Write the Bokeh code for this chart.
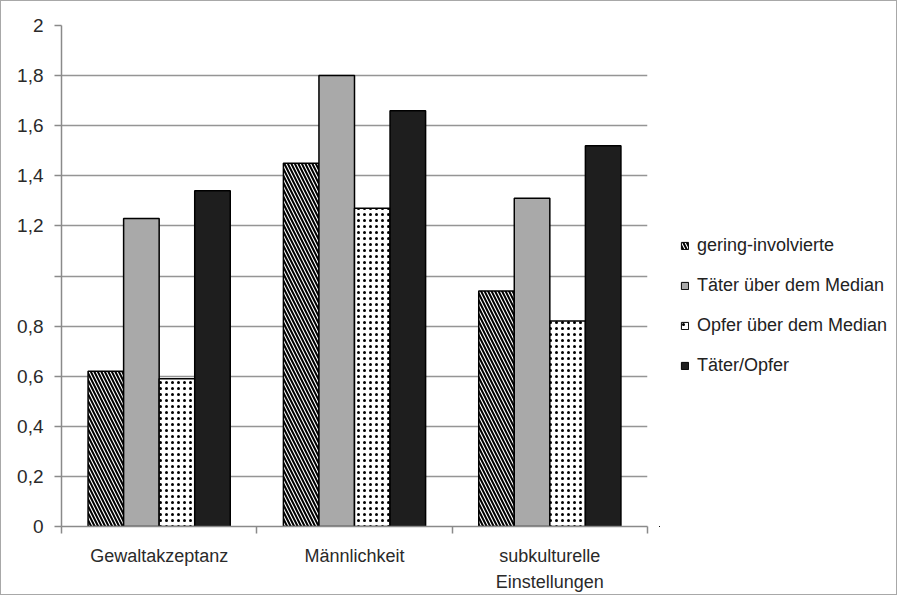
from bokeh.plotting import figure
from bokeh.layouts import row
from bokeh.models import (ColumnDataSource, Range1d, FixedTicker, Legend, LegendItem)
from bokeh.transform import dodge
from bokeh.embed import file_html
from bokeh.resources import INLINE

# ---- data ----
categories = ["Gewaltakzeptanz", "Männlichkeit", "subkulturelle\nEinstellungen"]
series_names = ["gering-involvierte", "Täter über dem Median", "Opfer über dem Median", "Täter/Opfer"]
gering = [0.62, 1.45, 0.94]
taeter = [1.23, 1.80, 1.31]
opfer = [0.59, 1.27, 0.82]
taeter_opfer = [1.34, 1.66, 1.52]
y_ticks = [0, 0.2, 0.4, 0.6, 0.8, 1, 1.2, 1.4, 1.6, 1.8, 2]
y_tick_labels = ["0", "0,2", "0,4", "0,6", "0,8", "", "1,2", "1,4", "1,6", "1,8", "2"]

x_pos = [i + 0.5 for i in range(len(categories))]
src = ColumnDataSource(dict(x=x_pos, g=gering, t=taeter, o=opfer, to=taeter_opfer))

FONT = "Liberation Sans"

styles = [
    dict(fill_color="white", hatch_pattern="\\", hatch_color="black", hatch_scale=7, hatch_weight=2),
    dict(fill_color="#a9a9a9"),
    dict(fill_color="white", hatch_pattern="dot", hatch_color="black", hatch_scale=6, hatch_weight=1),
    dict(fill_color="#1e1e1e"),
]
cols = ["g", "t", "o", "to"]
offsets = [-0.273, -0.091, 0.091, 0.273]

p = figure(width=658, height=593, output_backend="svg", toolbar_location=None,
           x_range=Range1d(0, 3), y_range=Range1d(0, 2),
           min_border_left=60, min_border_top=24, min_border_right=12, min_border_bottom=66)
p.outline_line_color = None
p.background_fill_color = "white"
p.border_fill_color = "white"

bw = 0.182
for col, off, st in zip(cols, offsets, styles):
    p.vbar(x=dodge("x", off, range=p.x_range), top=col, source=src, width=bw, bottom=0,
           line_color="black", line_width=1.5, **st)

# grid
p.xgrid.visible = False
p.ygrid.ticker = FixedTicker(ticks=y_ticks)
p.ygrid.grid_line_color = "#959595"
p.ygrid.grid_line_width = 1.5

# y axis
ya = p.yaxis[0]
ya.ticker = FixedTicker(ticks=y_ticks)
ya.major_label_overrides = {t: l for t, l in zip(y_ticks, y_tick_labels)}
ya.axis_line_color = "#8a8a8a"
ya.axis_line_width = 1.5
ya.major_tick_line_color = "#8a8a8a"
ya.major_tick_line_width = 1.5
ya.major_tick_out = 7
ya.major_tick_in = 0
ya.minor_tick_line_color = None
ya.major_label_standoff = 11
ya.major_label_text_font = FONT
ya.major_label_text_font_size = "19px"
ya.major_label_text_color = "#2a2a2a"

# x axis
xa = p.xaxis[0]
xa.ticker = FixedTicker(ticks=x_pos, minor_ticks=[0, 1, 2, 3])
xa.major_label_overrides = {x: c for x, c in zip(x_pos, categories)}
xa.axis_line_color = "#8a8a8a"
xa.axis_line_width = 1.5
xa.major_tick_out = 0
xa.major_tick_in = 0
xa.major_tick_line_color = None
xa.minor_tick_line_color = "#8a8a8a"
xa.minor_tick_line_width = 1.5
xa.minor_tick_out = 7
xa.minor_tick_in = 0
xa.major_label_standoff = 12
xa.major_label_text_font = FONT
xa.major_label_text_font_size = "18px"
xa.major_label_text_color = "#2a2a2a"
xa.major_label_text_line_height = 1.3

# legend panel (its renderers lie outside the visible ranges, only the legend shows)
q = figure(width=237, height=593, output_backend="svg", toolbar_location=None,
           x_range=Range1d(5, 6), y_range=Range1d(5, 6), min_border=0)
q.axis.visible = False
q.grid.visible = False
q.outline_line_color = None
q.background_fill_color = "white"
q.border_fill_color = "white"
leg_renderers = [q.vbar(x="x", top=col, source=src, width=bw, bottom=0,
                        line_color="black", line_width=1, **st)
                 for col, st in zip(cols, styles)]
legend = Legend(items=[LegendItem(label=n, renderers=[r]) for n, r in zip(series_names, leg_renderers)],
                location=(21, 150), padding=0, margin=0, spacing=19,
                glyph_width=9, glyph_height=9, label_standoff=8, label_height=20,
                border_line_color=None, background_fill_alpha=0,
                label_text_font=FONT, label_text_font_size="18px", label_text_color="#222222")
q.add_layout(legend)

layout = row(p, q)
layout.styles = {"border": "1px solid #a8a8a8", "background-color": "white"}

open("out.html", "w").write(file_html(layout, INLINE))
